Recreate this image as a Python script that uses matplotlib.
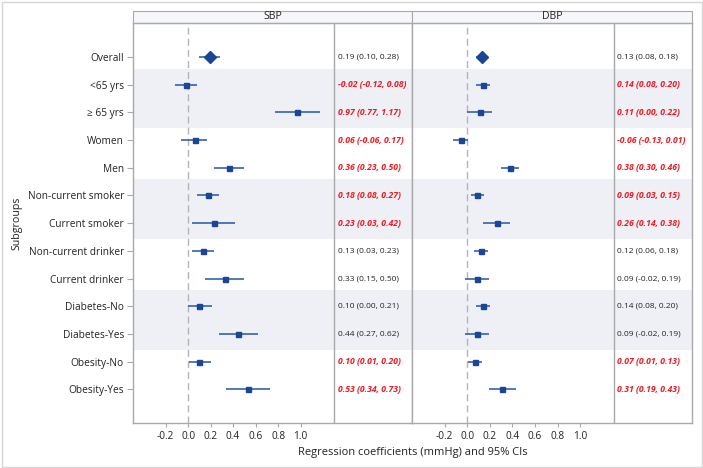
import matplotlib
matplotlib.use("Agg")
import matplotlib.pyplot as plt
from matplotlib.patches import Rectangle

# ---------------- data ----------------
subgroups = ["Overall", "<65 yrs", "≥ 65 yrs", "Women", "Men",
             "Non-current smoker", "Current smoker",
             "Non-current drinker", "Current drinker",
             "Diabetes-No", "Diabetes-Yes", "Obesity-No", "Obesity-Yes"]

sbp_est  = [0.19, -0.02, 0.97, 0.06, 0.36, 0.18, 0.23, 0.13, 0.33, 0.10, 0.44, 0.10, 0.53]
sbp_low  = [0.10, -0.12, 0.77, -0.06, 0.23, 0.08, 0.03, 0.03, 0.15, 0.00, 0.27, 0.01, 0.34]
sbp_high = [0.28, 0.08, 1.17, 0.17, 0.50, 0.27, 0.42, 0.23, 0.50, 0.21, 0.62, 0.20, 0.73]

dbp_est  = [0.13, 0.14, 0.11, -0.06, 0.38, 0.09, 0.26, 0.12, 0.09, 0.14, 0.09, 0.07, 0.31]
dbp_low  = [0.08, 0.08, 0.00, -0.13, 0.30, 0.03, 0.14, 0.06, -0.02, 0.08, -0.02, 0.01, 0.19]
dbp_high = [0.18, 0.20, 0.22, 0.01, 0.46, 0.15, 0.38, 0.18, 0.19, 0.20, 0.19, 0.13, 0.43]

# rows whose text is highlighted (red, bold italic)
highlight = [False, True, True, True, True, True, True,
             False, False, False, False, True, True]

# shaded row groups (first row, last row)
shaded_groups = [(1, 2), (5, 6), (9, 10)]

panel_titles = ["SBP", "DBP"]
xticks = [-0.2, 0.0, 0.2, 0.4, 0.6, 0.8, 1.0]
xlabel = "Regression coefficients (mmHg) and 95% CIs"
ylabel = "Subgroups"

# ---------------- style ----------------
FONT = ["Open Sans", "DejaVu Sans"]
plt.rcParams["font.family"] = FONT
W, H = 703, 468
fig = plt.figure(figsize=(W / 100, H / 100), dpi=100)

frame_col = "#a9a9a9"
band_col = "#eef0f6"
marker_col = "#1b4595"
line_col = "#3562ad"
red_col = "#ec1c24"
text_col = "#222222"

fig.patches.append(Rectangle((1.5 / W, 1.5 / H), (W - 3) / W, (H - 3) / H,
                             transform=fig.transFigure, fill=False,
                             edgecolor="#d6d6d6", lw=1.0))

ax1 = fig.add_axes([133 / W, 1 - 423 / H, 279 / W, 400 / H])
ax2 = fig.add_axes([412 / W, 1 - 423 / H, 280 / W, 400 / H])

rows = list(range(len(subgroups)))
data = [(sbp_est, sbp_low, sbp_high), (dbp_est, dbp_low, dbp_high)]

for k, ax in enumerate([ax1, ax2]):
    est, lo, hi = data[k]
    ax.set_xlim(-0.49, 1.99)
    ax.set_ylim(13.22, -1.23)
    for a, b in shaded_groups:
        ax.axhspan(a - 0.58, b + 0.58, color=band_col, lw=0, zorder=0)
    ax.axvline(0, color="#b4b4b4", lw=1.0, ls=(0, (5, 3)), zorder=1)
    ax.axvline(1.3, color=frame_col, lw=1.0, zorder=1)
    ax.hlines(rows, lo, hi, color=line_col, lw=1.2, zorder=2)
    for i in rows:
        if i == 0:
            ax.plot(est[i], i, marker="D", ms=6.5, color=marker_col,
                    mec=marker_col, zorder=3)
        else:
            ax.plot(est[i], i, marker="s", ms=3.6, color=marker_col,
                    mec=marker_col, zorder=3)
        s = f"{est[i]:.2f} ({lo[i]:.2f}, {hi[i]:.2f})"
        if highlight[i]:
            ax.text(1.33, i, s, color=red_col, fontsize=6.2, fontweight="bold",
                    fontstyle="italic", va="center", ha="left")
        else:
            ax.text(1.33, i, s, color=text_col, fontsize=6.0,
                    va="center", ha="left")
    for sp in ax.spines.values():
        sp.set_color(frame_col)
        sp.set_linewidth(1.0)
    ax.set_xticks(xticks)
    ax.set_xticklabels([f"{t:.1f}" for t in xticks])
    ax.tick_params(axis="x", length=3, color=frame_col, labelsize=7.3,
                   labelcolor=text_col, pad=3)
    # header strip
    ax.add_patch(Rectangle((0, 1), 1, 12.3 / 400, transform=ax.transAxes,
                           clip_on=False, facecolor="#f6f7fb",
                           edgecolor=frame_col, lw=0.8))
    ax.text(0.5, 1 + 6.2 / 400, panel_titles[k], transform=ax.transAxes,
            ha="center", va="center", fontsize=7.6, color=text_col)

ax1.set_yticks(rows)
ax1.set_yticklabels(subgroups)
ax1.tick_params(axis="y", length=4.5, color=frame_col, labelsize=7.3,
                labelcolor=text_col, pad=2)
ax2.set_yticks([])

fig.text(17 / W, 1 - 223 / H, ylabel, rotation=90, ha="center", va="center",
         fontsize=7.7, color=text_col)
fig.text(412.5 / W, 1 - 453 / H, xlabel, ha="center", va="center",
         fontsize=8.0, color=text_col)

fig.savefig("out.png", dpi=100)
